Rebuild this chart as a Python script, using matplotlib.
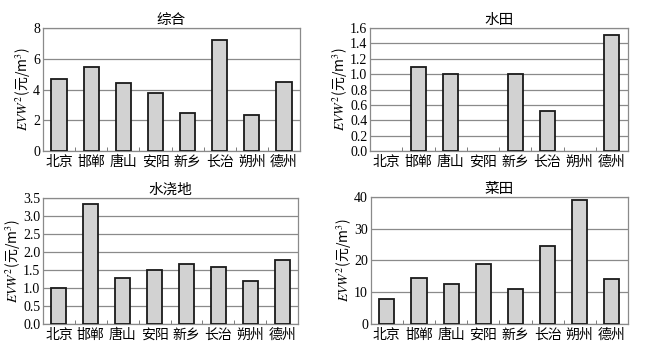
import matplotlib
matplotlib.use('Agg')
import matplotlib.pyplot as plt
import numpy as np

plt.rcParams['font.family'] = ['Noto Sans CJK SC', 'DejaVu Sans']
plt.rcParams['mathtext.fontset'] = 'stix'

# ── Data ──────────────────────────────────────────────────────────────────────
cities = ['北京', '邯郸', '唐山', '安阳', '新乡', '长治', '朔州', '德州']

zonghe   = [4.7, 5.5, 4.45, 3.8, 2.5, 7.2, 2.35, 4.5]
shuitian = [0.0, 1.1, 1.0, 0.0, 1.0, 0.52, 0.0, 1.51]
shuijiao = [0.99, 3.32, 1.28, 1.51, 1.67, 1.58, 1.18, 1.77]
caitian  = [7.7, 14.5, 12.6, 19.0, 10.9, 24.6, 39.0, 14.0]

panels = [
    ('综合',   zonghe,   [0, 2, 4, 6, 8],               '{:.0f}', [0.065, 0.576, 0.389, 0.345]),
    ('水田',   shuitian, list(np.arange(0, 1.61, 0.2)), '{:.1f}', [0.560, 0.576, 0.390, 0.345]),
    ('水浇地', shuijiao, list(np.arange(0, 3.51, 0.5)), '{:.1f}', [0.065, 0.090, 0.386, 0.354]),
    ('菜田',   caitian,  [0, 10, 20, 30, 40],           '{:.0f}', [0.561, 0.090, 0.389, 0.357]),
]

fig = plt.figure(figsize=(6.61, 3.56), dpi=100)

for title, vals, yticks, fmt, rect in panels:
    ax = fig.add_axes(rect)
    x = np.arange(len(cities))
    # empty cells (value 0) get no outline, as in the reference
    edges = ['#1a1a1a' if v > 0 else 'none' for v in vals]
    ax.bar(x, vals, width=0.47, color='#d2d2d2', edgecolor=edges,
           linewidth=1.3, zorder=3)
    ax.set_xlim(-0.5, len(cities) - 0.5)
    ax.set_ylim(yticks[0], yticks[-1])
    ax.set_yticks(yticks)
    ax.set_yticklabels([fmt.format(t) for t in yticks],
                       family='Liberation Serif', fontsize=10)
    ax.set_xticks(x)
    ax.set_xticklabels(cities, fontsize=10, fontweight='medium')
    ax.set_xticks(np.arange(0.5, len(cities) - 1, 1), minor=True)
    ax.tick_params(axis='x', which='major', length=0, pad=3)
    ax.tick_params(axis='x', which='minor', length=3, direction='in', color='#666')
    ax.tick_params(axis='y', length=0, pad=2)
    ax.yaxis.grid(True, color='#8a8a8a', lw=0.9, zorder=0)
    for s in ax.spines.values():
        s.set_color('#8a8a8a')
        s.set_linewidth(0.9)
    ax.set_title(title, fontsize=10.5, pad=3)
    ax.set_ylabel('$EVW^2$(元/m$^3$)', fontsize=10, labelpad=1)

fig.savefig('out.png', dpi=100)
